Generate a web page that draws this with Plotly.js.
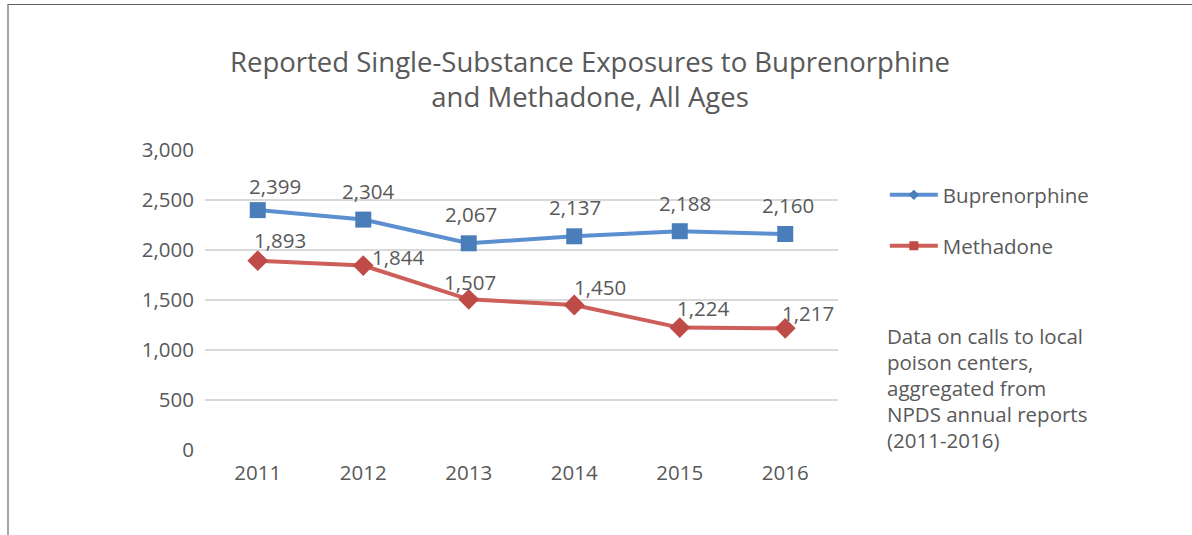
<!DOCTYPE html>
<html>
<head>
<meta charset="utf-8">
<script src="https://cdn.plot.ly/plotly-3.0.1.min.js"></script>
<style>
html,body{margin:0;padding:0;background:#fff;}
#wrap{position:relative;width:1192px;height:535px;overflow:hidden;}
#chart{position:absolute;left:0;top:0;width:1192px;height:535px;}
#frame{position:absolute;left:7px;top:4px;width:1200px;height:560px;border-top:1.5px solid #606060;border-left:2px solid #a6a6a6;pointer-events:none;}
</style>
</head>
<body>
<div id="wrap"><div id="chart"></div><div id="frame"></div></div>
<script>
// ---- data ----
const years = ["2011", "2012", "2013", "2014", "2015", "2016"];
const buprenorphine = [2399, 2304, 2067, 2137, 2188, 2160];
const methadone = [1893, 1844, 1507, 1450, 1224, 1217];
const seriesNames = ["Buprenorphine", "Methadone"];
const yTicks = [0, 500, 1000, 1500, 2000, 2500, 3000];
const titleText = "Reported Single-Substance Exposures to Buprenorphine<br>and Methadone, All Ages";
const noteLines = ["Data on calls to local", "poison centers,", "aggregated from", "NPDS annual reports", "(2011-2016)"];

// ---- style ----
const FONT = "'Open Sans', sans-serif";
const TXT = "#595959";
const FS = 20.5;
const BLUE_LINE = "#5b8fcf", BLUE_MK = "#4a7ebb";
const RED_LINE = "#cd5f5a", RED_MK = "#be4b48";
// label offsets in px (dx, dy) for data labels
const blueOff = [[17,24],[5,29],[2,29],[1,29],[5,28],[3,29]];
const redOff = [[22,21],[35,9],[1,17],[26,18],[23,20],[23,15]];

function fmt(v){ return v.toLocaleString("en-US"); }

const traces = [
  {x: years, y: buprenorphine, type: "scatter", mode: "lines+markers", name: seriesNames[0],
   line: {color: BLUE_LINE, width: 4}, marker: {symbol: "square", size: 16, color: BLUE_MK}, showlegend: false},
  {x: years, y: methadone, type: "scatter", mode: "lines+markers", name: seriesNames[1],
   line: {color: RED_LINE, width: 4}, marker: {symbol: "diamond", size: 16, color: RED_MK}, showlegend: false},
  {x: [null], y: [null], type: "scatter", mode: "lines+markers", name: seriesNames[0], legend: "legend",
   line: {color: BLUE_LINE, width: 4}, marker: {symbol: "diamond", size: 8, color: BLUE_MK}},
  {x: [null], y: [null], type: "scatter", mode: "lines+markers", name: seriesNames[1], legend: "legend2",
   line: {color: RED_LINE, width: 4}, marker: {symbol: "square", size: 9, color: RED_MK}}
];

const annotations = [];
years.forEach((yr, i) => {
  annotations.push({x: i, y: buprenorphine[i], xref: "x", yref: "y", text: fmt(buprenorphine[i]), showarrow: false,
    xanchor: "center", yanchor: "middle", xshift: blueOff[i][0], yshift: blueOff[i][1], font: {family: FONT, size: FS, color: TXT}});
  annotations.push({x: i, y: methadone[i], xref: "x", yref: "y", text: fmt(methadone[i]), showarrow: false,
    xanchor: "center", yanchor: "middle", xshift: redOff[i][0], yshift: redOff[i][1], font: {family: FONT, size: FS, color: TXT}});
});
noteLines.forEach((t, i) => {
  annotations.push({x: 885, y: 336 + 26 * i, xref: "paper", yref: "paper", text: t, showarrow: false,
    xanchor: "left", yanchor: "middle", font: {family: FONT, size: FS, color: TXT}});
});
// convert pixel note positions to paper coords
const L = 205, R = 354, T = 150, B = 85, W = 1192, H = 535;
const pw = W - L - R, ph = H - T - B;
annotations.forEach(a => {
  if (a.xref === "paper") { a.x = (a.x - L) / pw; a.y = 1 - (a.y - T) / ph; }
});

const layout = {
  width: W, height: H,
  margin: {l: L, r: R, t: T, b: B},
  paper_bgcolor: "#ffffff", plot_bgcolor: "#ffffff",
  font: {family: FONT, color: TXT, size: FS},
  title: {text: titleText, x: 0.495, xanchor: "center", y: 0.866, yanchor: "middle",
          font: {family: FONT, size: 27.5, color: TXT}},
  xaxis: {type: "category", range: [-0.5, 5.5], showgrid: false, zeroline: false, showline: false,
          ticks: "", ticklabelstandoff: 8, tickfont: {family: FONT, size: FS, color: TXT}, fixedrange: true},
  yaxis: {range: [0, 3000], tickvals: yTicks, ticktext: yTicks.map(fmt), showgrid: true, gridcolor: "#d9d9d9", gridwidth: 2,
          zeroline: false, showline: false, ticks: "", ticklabelstandoff: 10,
          tickfont: {family: FONT, size: FS, color: TXT}, fixedrange: true},
  showlegend: true,
  legend: {x: 1.074, y: 0.85, xanchor: "left", yanchor: "middle", itemwidth: 48, font: {family: FONT, size: FS, color: TXT}, bgcolor: "rgba(0,0,0,0)"},
  legend2: {x: 1.074, y: 0.68, xanchor: "left", yanchor: "middle", itemwidth: 48, font: {family: FONT, size: FS, color: TXT}, bgcolor: "rgba(0,0,0,0)"},
  annotations: annotations
};

Plotly.newPlot("chart", traces, layout, {displayModeBar: false, staticPlot: true});
</script>
</body>
</html>
